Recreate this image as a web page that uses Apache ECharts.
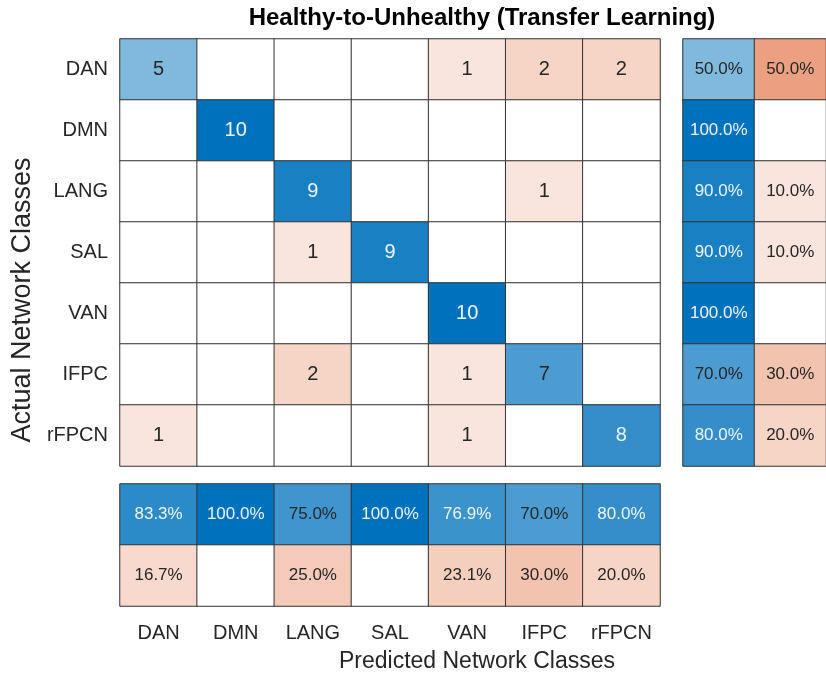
<!DOCTYPE html>
<html>
<head>
<meta charset="utf-8">
<script src="https://cdn.jsdelivr.net/npm/echarts@6/dist/echarts.min.js"></script>
<style>
  html, body { margin: 0; padding: 0; background: #fff; }
  #chart { width: 826px; height: 675px; }
</style>
</head>
<body>
<div id="chart"></div>
<script>
// class names, same order for actual (rows) and predicted (columns)
var classes = ['DAN', 'DMN', 'LANG', 'SAL', 'VAN', 'IFPC', 'rFPCN'];

// confusion counts, row = actual, col = predicted
var counts = [
    [5, 0, 0, 0, 1, 2, 2],
    [0, 10, 0, 0, 0, 0, 0],
    [0, 0, 9, 0, 0, 1, 0],
    [0, 0, 1, 9, 0, 0, 0],
    [0, 0, 0, 0, 10, 0, 0],
    [0, 0, 2, 0, 1, 7, 0],
    [1, 0, 0, 0, 1, 0, 8]
];
var maxCount = 10;

// row summary (per actual class): [correct %, wrong %]
var rowSummary = [
    [50.0, 50.0],
    [100.0, 0],
    [90.0, 10.0],
    [90.0, 10.0],
    [100.0, 0],
    [70.0, 30.0],
    [80.0, 20.0]
];

// column summary (per predicted class): [correct %, wrong %]
var colSummary = [
    [83.3, 16.7],
    [100.0, 0],
    [75.0, 25.0],
    [100.0, 0],
    [76.9, 23.1],
    [70.0, 30.0],
    [80.0, 20.0]
];

var BLUE = [0, 114, 189];
var ORANGE = [217, 83, 25];
var FONT = 'Liberation Sans';
var TXT = '#262626';

function mix(c, t) {
    t = Math.max(0, Math.min(1, t));
    var r = Math.round(255 + (c[0] - 255) * t);
    var g = Math.round(255 + (c[1] - 255) * t);
    var b = Math.round(255 + (c[2] - 255) * t);
    return 'rgb(' + r + ',' + g + ',' + b + ')';
}

// one heatmap cell; v is 0..1, good = diagonal / correct
function cell(x, y, v, good, text, size) {
    var t = good ? v : (v > 0 ? v + 0.05 : 0);
    return {
        value: [x, y, v],
        itemStyle: { color: v > 0 ? mix(good ? BLUE : ORANGE, t) : '#ffffff' },
        label: {
            show: v > 0,
            formatter: text,
            fontSize: size,
            fontFamily: FONT,
            color: good && t > 0.76 ? '#eef5fb' : TXT
        }
    };
}

var mainData = [];
for (var i = 0; i < classes.length; i++) {
    for (var j = 0; j < classes.length; j++) {
        mainData.push(cell(j, i, counts[i][j] / maxCount, i === j, String(counts[i][j]), 20));
    }
}
var rowData = [];
for (var i = 0; i < rowSummary.length; i++) {
    for (var k = 0; k < 2; k++) {
        var p = rowSummary[i][k];
        rowData.push(cell(k, i, p / 100, k === 0, p.toFixed(1) + '%', 17));
    }
}
var colData = [];
for (var j = 0; j < colSummary.length; j++) {
    for (var k = 0; k < 2; k++) {
        var p = colSummary[j][k];
        colData.push(cell(j, k, p / 100, k === 0, p.toFixed(1) + '%', 17));
    }
}

var chart = echarts.init(document.getElementById('chart'));

function catAxis(gridIndex, data, showLabel, inverse, margin) {
    return {
        type: 'category',
        gridIndex: gridIndex,
        data: data,
        inverse: !!inverse,
        axisLine: { show: false },
        axisTick: { show: false },
        splitLine: { show: false },
        axisLabel: {
            show: showLabel,
            interval: 0,
            fontSize: 20,
            fontFamily: FONT,
            color: TXT,
            margin: margin || 12
        }
    };
}

var seriesBase = {
    type: 'heatmap',
    itemStyle: { borderColor: '#333333', borderWidth: 1 },
    emphasis: { disabled: true },
    animation: false
};

var option = {
    animation: false,
    grid: [
        { left: 120, top: 39, width: 540, height: 427 },
        { left: 683, top: 39, width: 155, height: 427 },
        { left: 120, top: 484, width: 540, height: 122 }
    ],
    xAxis: [
        catAxis(0, classes, false),
        catAxis(1, ['correct', 'wrong'], false),
        catAxis(2, classes, true, false, 17)
    ],
    yAxis: [
        catAxis(0, classes, true, true),
        catAxis(1, classes, false, true),
        catAxis(2, ['correct', 'wrong'], false, true)
    ],
    series: [
        Object.assign({}, seriesBase, { xAxisIndex: 0, yAxisIndex: 0, data: mainData }),
        Object.assign({}, seriesBase, { xAxisIndex: 1, yAxisIndex: 1, data: rowData }),
        Object.assign({}, seriesBase, { xAxisIndex: 2, yAxisIndex: 2, data: colData })
    ],
    graphic: [
        {
            type: 'text', x: 482, y: 18,
            style: {
                text: 'Healthy-to-Unhealthy (Transfer Learning)',
                fontSize: 24, fontWeight: 'bold', fontFamily: FONT, fill: '#000',
                align: 'center', verticalAlign: 'middle'
            }
        },
        {
            type: 'text', x: 477, y: 662,
            style: {
                text: 'Predicted Network Classes',
                fontSize: 23, fontFamily: FONT, fill: TXT,
                align: 'center', verticalAlign: 'middle'
            }
        },
        {
            type: 'text', x: 23, y: 300, rotation: Math.PI / 2,
            style: {
                text: 'Actual Network Classes',
                fontSize: 27, fontFamily: FONT, fill: TXT,
                align: 'center', verticalAlign: 'middle'
            }
        }
    ]
};

chart.setOption(option);
</script>
</body>
</html>
